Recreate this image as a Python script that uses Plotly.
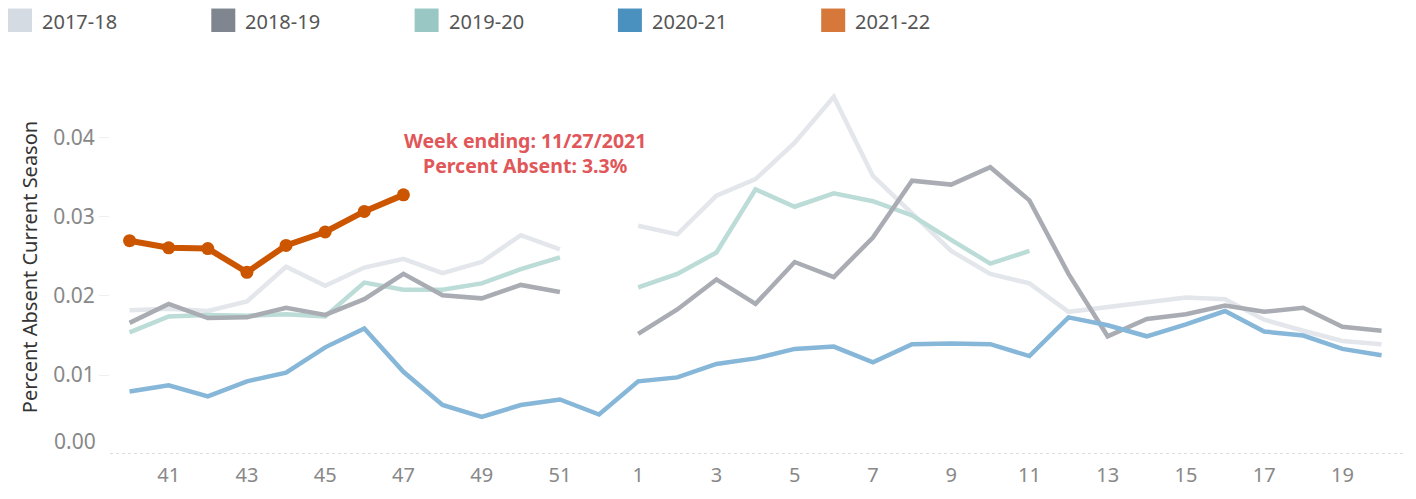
import plotly.graph_objects as go

weeks = [str(w) for w in list(range(40, 53)) + list(range(1, 21))]
tick_weeks = ["41", "43", "45", "47", "49", "51", "1", "3", "5", "7", "9", "11", "13", "15", "17", "19"]

s2017 = [0.0182, 0.0184, 0.0181, 0.0193, 0.0237, 0.0213, 0.0236, 0.0247, 0.0229, 0.0243, 0.0277, 0.0259, None,
         0.0289, 0.0278, 0.0327, 0.0348, 0.0394, 0.0452, 0.0352, 0.0304, 0.0257, 0.0228, 0.0216, 0.0180,
         0.0186, 0.0193, 0.0198, 0.0196, 0.0170, 0.0156, 0.0143, 0.0139]
s2018 = [0.0166, 0.0190, 0.0172, 0.0173, 0.0185, 0.0176, 0.0196, 0.0228, 0.0201, 0.0197, 0.0214, 0.0205, None,
         0.0152, 0.0183, 0.0221, 0.0190, 0.0243, 0.0224, 0.0274, 0.0346, 0.0341, 0.0363, 0.0321, 0.0228,
         0.0149, 0.0171, 0.0177, 0.0188, 0.0180, 0.0185, 0.0161, 0.0156]
s2019 = [0.0154, 0.0174, 0.0176, 0.0175, 0.0177, 0.0174, 0.0217, 0.0208, 0.0208, 0.0216, 0.0234, 0.0249, None,
         0.0211, 0.0228, 0.0255, 0.0335, 0.0313, 0.0330, 0.0320, 0.0302, 0.0271, 0.0241, 0.0257] + [None] * 9
s2020 = [0.0079, 0.0087, 0.0073, 0.0092, 0.0103, 0.0135, 0.0159, 0.0104, 0.0062, 0.0047, 0.0062, 0.0069, 0.0050,
         0.0092, 0.0097, 0.0114, 0.0121, 0.0133, 0.0136, 0.0116, 0.0139, 0.0140, 0.0139, 0.0124, 0.0173,
         0.0163, 0.0149, 0.0164, 0.0181, 0.0155, 0.0150, 0.0133, 0.0125]
s2021 = [0.0270, 0.0261, 0.0260, 0.0230, 0.0264, 0.0281, 0.0307, 0.0328] + [None] * 25

seasons = ["2017-18", "2018-19", "2019-20", "2020-21", "2021-22"]
legend_colors = ["#d4dbe3", "#7f868f", "#99c8c4", "#4a91bf", "#d5783a"]
line_colors = ["#e3e6eb", "#a9adb3", "#bcdcd7", "#86b6d8", "#cc5500"]
series = [s2017, s2018, s2019, s2020, s2021]
draw_order = [0, 2, 1, 3, 4]

y_ticks = [0.01, 0.02, 0.03, 0.04]
y_ticktext = ["0.01", "0.02", "0.03", "0.04"]

# page body keeps its default 8px margin; size the figure to fill the window exactly
PAGE = 8
W, H = 1416 - 2 * PAGE, 499 - 2 * PAGE
ML, MR, MT, MB = 110 - PAGE, 1416 - PAGE - 1405, 80 - PAGE, 499 - PAGE - 462
PW, PH = W - ML - MR, H - MT - MB


def px_x(p):
    return (p - PAGE - ML) / PW


def px_y(p):
    return (H - MB - (p - PAGE)) / PH


axis_font = "'Noto Sans', 'Open Sans', sans-serif"
fig = go.Figure()

for i in draw_order:
    if i == 4:
        fig.add_trace(go.Scatter(x=weeks, y=series[i], mode="lines+markers", showlegend=False,
                                 line=dict(color=line_colors[i], width=6),
                                 marker=dict(color=line_colors[i], size=13), connectgaps=False,
                                 hoverinfo="skip"))
    else:
        fig.add_trace(go.Scatter(x=weeks, y=series[i], mode="lines", showlegend=False,
                                 line=dict(color=line_colors[i], width=4.5), connectgaps=False,
                                 hoverinfo="skip"))

# legend: square swatches + labels across the top
for k, (name, col) in enumerate(zip(seasons, legend_colors)):
    left = 8 + 203.3 * k
    fig.add_shape(type="rect", xref="paper", yref="paper",
                  x0=px_x(left), x1=px_x(left + 24), y0=px_y(31), y1=px_y(7),
                  fillcolor=col, line=dict(width=0), layer="above")
    fig.add_annotation(xref="paper", yref="paper", x=px_x(left + 32), y=px_y(20),
                       xanchor="left", yanchor="middle", text=name, showarrow=False,
                       font=dict(family=axis_font, size=20, color="#555555"))

last_idx = max(i for i, v in enumerate(s2021) if v is not None)
fig.add_annotation(x=last_idx, y=s2021[last_idx], xref="x", yref="y",
                   text="<b>Week ending: 11/27/2021<br>Percent Absent: 3.3%</b>",
                   showarrow=False, xshift=122, yshift=42, align="center",
                   font=dict(family=axis_font, size=19.5, color="#e15759"))

# zero label (drawn slightly above the baseline, as in the original)
fig.add_annotation(x=0, xref="paper", y=0, yref="y", text="0.00", showarrow=False,
                   xanchor="right", yanchor="middle", xshift=-12, yshift=13,
                   font=dict(family=axis_font, size=21, color="#888888"))

fig.update_layout(
    width=W, height=H,
    margin=dict(l=ML, r=MR, t=MT, b=MB),
    paper_bgcolor="white", plot_bgcolor="white",
    font=dict(family=axis_font, color="#888888"),
    showlegend=False,
    hovermode=False,
    xaxis=dict(type="category", categoryorder="array", categoryarray=weeks,
               range=[-0.5, 32.6], tickmode="array", tickvals=tick_weeks, ticktext=tick_weeks,
               showgrid=False, zeroline=False, showline=False, ticks="",
               ticklabelstandoff=7,
               tickfont=dict(size=20, color="#888888")),
    yaxis=dict(range=[0, 0.04734], tickvals=y_ticks, ticktext=y_ticktext,
               showgrid=False, zeroline=False, showline=False,
               ticks="outside", ticklen=10, tickcolor="#eeeeee", tickwidth=1,
               tickfont=dict(size=21, color="#888888"),
               title=dict(text="Percent Absent Current Season", standoff=10,
                          font=dict(size=20, color="#333333"))),
)

fig.add_hline(y=0, line=dict(color="#bbbbbb", width=1, dash="dot"))

fig.write_html("out.html", config={"displayModeBar": False})
